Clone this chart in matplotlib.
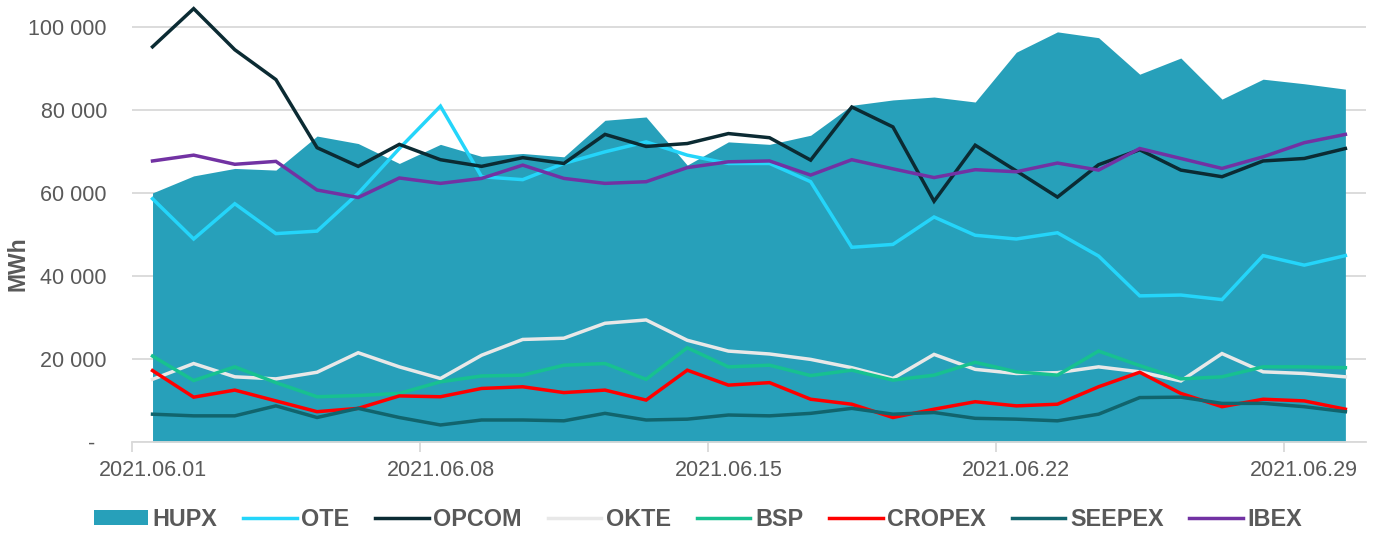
import matplotlib.pyplot as plt
from matplotlib.patches import Patch
from matplotlib.lines import Line2D

plt.rcParams["font.family"] = ["Liberation Sans", "DejaVu Sans"]

# napi adatok, 2021.06.01 - 2021.06.30 (MWh)
days = [f"2021.06.{d:02d}" for d in range(1, 31)]

hupx = [60000, 64100, 65900, 65500, 73700, 71900, 67100, 71700, 68800, 69500,
        68700, 77500, 78300, 66700, 72300, 71700, 73900, 81100, 82400, 83100,
        81900, 93900, 98800, 97400, 88600, 92500, 82600, 87400, 86300, 85000]
ote = [58600, 48900, 57400, 50200, 50800, 59900, 70700, 80900, 63900, 63200,
       67100, 69900, 72300, 69100, 67100, 67100, 62700, 46900, 47600, 54200,
       49800, 48900, 50400, 44800, 35200, 35400, 34300, 44900, 42600, 44900]
opcom = [95200, 104400, 94500, 87300, 70900, 66400, 71700, 68000, 66400, 68500,
         67100, 74100, 71200, 71900, 74300, 73300, 67900, 80700, 75900, 58000,
         71500, 65300, 59000, 66800, 70400, 65500, 63900, 67700, 68300, 70700]
okte = [15100, 18900, 15700, 15200, 16800, 21500, 18100, 15300, 20900, 24700,
        25000, 28600, 29400, 24500, 21900, 21200, 19900, 17900, 15300, 21100,
        17500, 16500, 16700, 18100, 16900, 14700, 21300, 16900, 16500, 15700]
bsp = [20700, 14800, 18100, 14300, 10900, 11200, 11700, 14500, 15900, 16100,
       18500, 18900, 15100, 22700, 18100, 18500, 16000, 17300, 14900, 16100,
       19200, 16900, 16100, 21900, 18400, 15200, 15700, 18100, 18100, 17900]
cropex = [17200, 10800, 12500, 9900, 7300, 8100, 11100, 10900, 12900, 13300,
          11900, 12500, 10100, 17300, 13700, 14300, 10300, 9100, 5900, 7900,
          9700, 8700, 9100, 13300, 16800, 11700, 8500, 10300, 9900, 7900]
seepex = [6700, 6300, 6300, 8700, 5900, 8100, 5900, 4100, 5300, 5300,
          5100, 6900, 5300, 5500, 6500, 6300, 6900, 8100, 6700, 7100,
          5700, 5500, 5100, 6700, 10700, 10800, 9300, 9300, 8500, 7300]
ibex = [67700, 69100, 66900, 67600, 60700, 58900, 63600, 62300, 63500, 66700,
        63500, 62300, 62700, 66100, 67500, 67700, 64300, 68000, 65800, 63700,
        65600, 65100, 67200, 65500, 70700, 68300, 65900, 68700, 72100, 74100]

y_ticks = [0, 20000, 40000, 60000, 80000, 100000]
y_tick_labels = ["-  ", "20 000", "40 000", "60 000", "80 000", "100 000"]

TEXT = "#595959"
GRID = "#D9D9D9"

lines = [
    ("OTE", ote, "#24D5FA"),
    ("OPCOM", opcom, "#0B2B33"),
    ("OKTE", okte, "#E8E8E8"),
    ("BSP", bsp, "#17C190"),
    ("CROPEX", cropex, "#FF0000"),
    ("SEEPEX", seepex, "#11646D"),
    ("IBEX", ibex, "#7232A3"),
]


def main():
    fig = plt.figure(figsize=(13.76, 5.34), dpi=100)
    ax = fig.add_axes([0.0959, 0.1723, 0.8968, 0.8240])

    x = list(range(len(days)))

    # HUPX terület
    ax.fill_between(x, 0, hupx, color="#27A0BA", linewidth=0, zorder=2)

    for name, values, color in lines:
        ax.plot(x, values, color=color, linewidth=2.5, zorder=3,
                solid_joinstyle="miter")

    ax.set_xlim(-0.5, len(days) - 0.5)
    ax.set_ylim(0, 106000)

    ax.set_yticks(y_ticks)
    ax.set_yticklabels(y_tick_labels)
    ax.yaxis.grid(True, color=GRID, linewidth=1.3, zorder=0)
    ax.set_axisbelow(True)

    label_pos = [0, 7, 14, 21, 28]
    ax.set_xticks(label_pos)
    ax.set_xticklabels([days[i] for i in label_pos])
    ax.set_xticks([-0.5, 6.5, 13.5, 20.5, 27.5], minor=True)

    ax.tick_params(axis="x", which="major", length=0, pad=13,
                   labelsize=15.5, labelcolor=TEXT)
    ax.tick_params(axis="x", which="minor", length=7, width=1.3, color=GRID)
    ax.tick_params(axis="y", length=0, pad=18, labelsize=15.5, labelcolor=TEXT)

    for side in ["top", "right", "left"]:
        ax.spines[side].set_visible(False)
    ax.spines["bottom"].set_color(GRID)
    ax.spines["bottom"].set_linewidth(1.3)

    fig.text(18 / 1376, 1 - 264 / 534, "MWh", rotation=90, ha="center",
             va="center", fontsize=16.5, fontweight="bold", color=TEXT)

    handles = [Patch(facecolor="#27A0BA", edgecolor="none")]
    handles += [Line2D([0], [0], color=c, linewidth=2.5) for _, _, c in lines]
    names = ["HUPX"] + [n for n, _, _ in lines]

    leg = fig.legend(handles, names, loc="center", ncol=8,
                     bbox_to_anchor=(0.5075, 1 - 519 / 534), frameon=False,
                     handlelength=2.3, handleheight=0.6, handletextpad=0.2,
                     columnspacing=1.1,
                     prop={"size": 16.8, "weight": "bold"})
    for t in leg.get_texts():
        t.set_color(TEXT)

    fig.savefig("out.png", dpi=100)


if __name__ == "__main__":
    main()
